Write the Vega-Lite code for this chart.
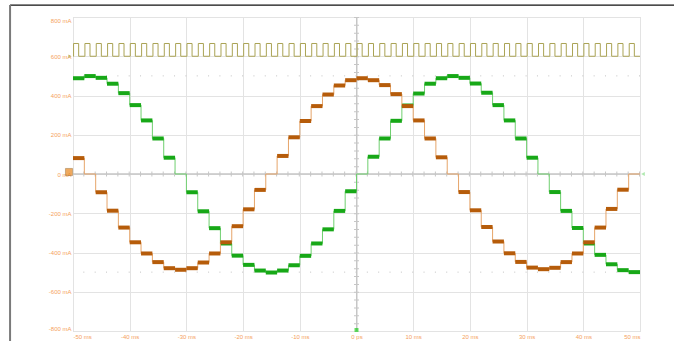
{
  "$schema": "https://vega.github.io/schema/vega-lite/v6.json",
  "width": 567,
  "height": 314,
  "autosize": {"type": "none"},
  "padding": {"left": 73, "top": 17, "right": 34, "bottom": 10},
  "background": "white",
  "config": {
    "view": {"stroke": "#d2d2d2", "strokeWidth": 1},
    "axis": {"domain": false, "ticks": false, "labelFont": "Liberation Sans", "labelFontSize": 6, "labelColor": "#f5a15c", "gridColor": "#e3e3e3", "gridWidth": 1, "labelPadding": 2, "labelOverlap": false, "labelBound": false}
  },
  "datasets": {
    "steps": [
      {"s":"green","t0":-50,"t1":-48,"v":488},{"s":"green","t0":-48,"t1":-46,"v":499},{"s":"green","t0":-46,"t1":-44,"v":490},{"s":"green","t0":-44,"t1":-42,"v":460},{"s":"green","t0":-42,"t1":-40,"v":412},
      {"s":"green","t0":-40,"t1":-38,"v":351},{"s":"green","t0":-38,"t1":-36,"v":273},{"s":"green","t0":-36,"t1":-34,"v":181},{"s":"green","t0":-34,"t1":-32,"v":83},{"s":"green","t0":-32,"t1":-30,"v":0},
      {"s":"green","t0":-30,"t1":-28,"v":-93},{"s":"green","t0":-28,"t1":-26,"v":-190},{"s":"green","t0":-26,"t1":-24,"v":-276},{"s":"green","t0":-24,"t1":-22,"v":-354},{"s":"green","t0":-22,"t1":-20,"v":-416},
      {"s":"green","t0":-20,"t1":-18,"v":-463},{"s":"green","t0":-18,"t1":-16,"v":-492},{"s":"green","t0":-16,"t1":-14,"v":-502},{"s":"green","t0":-14,"t1":-12,"v":-492},{"s":"green","t0":-12,"t1":-10,"v":-465},
      {"s":"green","t0":-10,"t1":-8,"v":-417},{"s":"green","t0":-8,"t1":-6,"v":-354},{"s":"green","t0":-6,"t1":-4,"v":-282},{"s":"green","t0":-4,"t1":-2,"v":-188},{"s":"green","t0":-2,"t1":0,"v":-88},
      {"s":"green","t0":0,"t1":2,"v":0},{"s":"green","t0":2,"t1":4,"v":88},{"s":"green","t0":4,"t1":6,"v":181},{"s":"green","t0":6,"t1":8,"v":271},{"s":"green","t0":8,"t1":10,"v":349},
      {"s":"green","t0":10,"t1":12,"v":410},{"s":"green","t0":12,"t1":14,"v":460},{"s":"green","t0":14,"t1":16,"v":488},{"s":"green","t0":16,"t1":18,"v":499},{"s":"green","t0":18,"t1":20,"v":490},
      {"s":"green","t0":20,"t1":22,"v":461},{"s":"green","t0":22,"t1":24,"v":414},{"s":"green","t0":24,"t1":26,"v":351},{"s":"green","t0":26,"t1":28,"v":273},{"s":"green","t0":28,"t1":30,"v":181},
      {"s":"green","t0":30,"t1":32,"v":83},{"s":"green","t0":32,"t1":34,"v":0},{"s":"green","t0":34,"t1":36,"v":-92},{"s":"green","t0":36,"t1":38,"v":-188},{"s":"green","t0":38,"t1":40,"v":-275},
      {"s":"green","t0":40,"t1":42,"v":-354},{"s":"green","t0":42,"t1":44,"v":-412},{"s":"green","t0":44,"t1":46,"v":-460},{"s":"green","t0":46,"t1":48,"v":-490},{"s":"green","t0":48,"t1":50,"v":-500},
      {"s":"orange","t0":-50,"t1":-48,"v":81},{"s":"orange","t0":-48,"t1":-46,"v":0},{"s":"orange","t0":-46,"t1":-44,"v":-93},{"s":"orange","t0":-44,"t1":-42,"v":-187},{"s":"orange","t0":-42,"t1":-40,"v":-273},
      {"s":"orange","t0":-40,"t1":-38,"v":-348},{"s":"orange","t0":-38,"t1":-36,"v":-405},{"s":"orange","t0":-36,"t1":-34,"v":-449},{"s":"orange","t0":-34,"t1":-32,"v":-480},{"s":"orange","t0":-32,"t1":-30,"v":-488},
      {"s":"orange","t0":-30,"t1":-28,"v":-480},{"s":"orange","t0":-28,"t1":-26,"v":-451},{"s":"orange","t0":-26,"t1":-24,"v":-405},{"s":"orange","t0":-24,"t1":-22,"v":-348},{"s":"orange","t0":-22,"t1":-20,"v":-266},
      {"s":"orange","t0":-20,"t1":-18,"v":-180},{"s":"orange","t0":-18,"t1":-16,"v":-81},{"s":"orange","t0":-16,"t1":-14,"v":0},{"s":"orange","t0":-14,"t1":-12,"v":92},{"s":"orange","t0":-12,"t1":-10,"v":187},
      {"s":"orange","t0":-10,"t1":-8,"v":270},{"s":"orange","t0":-8,"t1":-6,"v":346},{"s":"orange","t0":-6,"t1":-4,"v":405},{"s":"orange","t0":-4,"t1":-2,"v":451},{"s":"orange","t0":-2,"t1":0,"v":478},
      {"s":"orange","t0":0,"t1":2,"v":488},{"s":"orange","t0":2,"t1":4,"v":478},{"s":"orange","t0":4,"t1":6,"v":453},{"s":"orange","t0":6,"t1":8,"v":407},{"s":"orange","t0":8,"t1":10,"v":346},
      {"s":"orange","t0":10,"t1":12,"v":273},{"s":"orange","t0":12,"t1":14,"v":181},{"s":"orange","t0":14,"t1":16,"v":85},{"s":"orange","t0":16,"t1":18,"v":0},{"s":"orange","t0":18,"t1":20,"v":-92},
      {"s":"orange","t0":20,"t1":22,"v":-185},{"s":"orange","t0":22,"t1":24,"v":-270},{"s":"orange","t0":24,"t1":26,"v":-344},{"s":"orange","t0":26,"t1":28,"v":-404},{"s":"orange","t0":28,"t1":30,"v":-448},
      {"s":"orange","t0":30,"t1":32,"v":-477},{"s":"orange","t0":32,"t1":34,"v":-485},{"s":"orange","t0":34,"t1":36,"v":-478},{"s":"orange","t0":36,"t1":38,"v":-449},{"s":"orange","t0":38,"t1":40,"v":-405},
      {"s":"orange","t0":40,"t1":42,"v":-348},{"s":"orange","t0":42,"t1":44,"v":-273},{"s":"orange","t0":44,"t1":46,"v":-178},{"s":"orange","t0":46,"t1":48,"v":-80},{"s":"orange","t0":48,"t1":50,"v":0}
    ],
    "sq": [
      {"t":-50,"v":600},
      {"t":-49.9,"v":665},{"t":-49,"v":600},{"t":-47.9,"v":665},{"t":-47,"v":600},{"t":-45.9,"v":665},{"t":-45,"v":600},{"t":-43.9,"v":665},{"t":-43,"v":600},{"t":-41.9,"v":665},{"t":-41,"v":600},
      {"t":-39.9,"v":665},{"t":-39,"v":600},{"t":-37.9,"v":665},{"t":-37,"v":600},{"t":-35.9,"v":665},{"t":-35,"v":600},{"t":-33.9,"v":665},{"t":-33,"v":600},{"t":-31.9,"v":665},{"t":-31,"v":600},
      {"t":-29.9,"v":665},{"t":-29,"v":600},{"t":-27.9,"v":665},{"t":-27,"v":600},{"t":-25.9,"v":665},{"t":-25,"v":600},{"t":-23.9,"v":665},{"t":-23,"v":600},{"t":-21.9,"v":665},{"t":-21,"v":600},
      {"t":-19.9,"v":665},{"t":-19,"v":600},{"t":-17.9,"v":665},{"t":-17,"v":600},{"t":-15.9,"v":665},{"t":-15,"v":600},{"t":-13.9,"v":665},{"t":-13,"v":600},{"t":-11.9,"v":665},{"t":-11,"v":600},
      {"t":-9.9,"v":665},{"t":-9,"v":600},{"t":-7.9,"v":665},{"t":-7,"v":600},{"t":-5.9,"v":665},{"t":-5,"v":600},{"t":-3.9,"v":665},{"t":-3,"v":600},{"t":-1.9,"v":665},{"t":-1,"v":600},
      {"t":0.1,"v":665},{"t":1,"v":600},{"t":2.1,"v":665},{"t":3,"v":600},{"t":4.1,"v":665},{"t":5,"v":600},{"t":6.1,"v":665},{"t":7,"v":600},{"t":8.1,"v":665},{"t":9,"v":600},
      {"t":10.1,"v":665},{"t":11,"v":600},{"t":12.1,"v":665},{"t":13,"v":600},{"t":14.1,"v":665},{"t":15,"v":600},{"t":16.1,"v":665},{"t":17,"v":600},{"t":18.1,"v":665},{"t":19,"v":600},
      {"t":20.1,"v":665},{"t":21,"v":600},{"t":22.1,"v":665},{"t":23,"v":600},{"t":24.1,"v":665},{"t":25,"v":600},{"t":26.1,"v":665},{"t":27,"v":600},{"t":28.1,"v":665},{"t":29,"v":600},
      {"t":30.1,"v":665},{"t":31,"v":600},{"t":32.1,"v":665},{"t":33,"v":600},{"t":34.1,"v":665},{"t":35,"v":600},{"t":36.1,"v":665},{"t":37,"v":600},{"t":38.1,"v":665},{"t":39,"v":600},
      {"t":40.1,"v":665},{"t":41,"v":600},{"t":42.1,"v":665},{"t":43,"v":600},{"t":44.1,"v":665},{"t":45,"v":600},{"t":46.1,"v":665},{"t":47,"v":600},{"t":48.1,"v":665},{"t":49,"v":600},
      {"t":50,"v":600}
    ],
    "frame": [
      {"part": "top", "t0": -61.1, "t1": 56, "v0": 861, "v1": 861},
      {"part": "left", "t0": -61.1, "t1": -61.1, "v0": 861, "v1": -852}
    ]
  },
  "layer": [
    {
      "data": {"values": [{"v": 500}, {"v": -500}]},
      "mark": {"type": "rule", "color": "#c2c2c2", "strokeDash": [1, 10.34]},
      "encoding": {
        "y": {"field": "v", "type": "quantitative", "scale": {"domain": [-800, 800], "nice": false, "zero": false}, "title": null,
          "axis": {"values": [-800, -600, -400, -200, 0, 200, 400, 600, 800], "tickCount": 40, "labelOverlap": false, "grid": true, "labelFlush": true,
            "labelExpr": "datum.value + ' mA'", "title": null}}
      }
    },
    {
      "data": {"values": [{"t": 0}]},
      "mark": {"type": "rule", "color": "#c6c6c6"},
      "encoding": {
        "x": {"field": "t", "type": "quantitative", "scale": {"domain": [-50, 50], "nice": false, "zero": false}, "title": null,
          "axis": {"values": [-50, -40, -30, -20, -10, 0, 10, 20, 30, 40, 50], "tickCount": 40, "labelOverlap": false, "grid": true, "labelFlush": true,
            "labelExpr": "datum.value == 0 ? '0 ps' : datum.value + ' ms'", "title": null}}
      }
    },
    {
      "data": {"values": [{"t": 0}]},
      "mark": {"type": "rule", "color": "#c6c6c6", "strokeWidth": 5, "strokeDash": [1, 6.85]},
      "encoding": {"x": {"field": "t", "type": "quantitative", "title": null}}
    },
    {
      "data": {"values": [{"v": 0}]},
      "mark": {"type": "rule", "color": "#c6c6c6", "strokeWidth": 1.5},
      "encoding": {"y": {"field": "v", "type": "quantitative", "title": null}}
    },
    {
      "data": {"values": [{"v": 0}]},
      "mark": {"type": "rule", "color": "#c6c6c6", "strokeWidth": 5, "strokeDash": [1, 10.34]},
      "encoding": {"y": {"field": "v", "type": "quantitative", "title": null}}
    },
    {
      "data": {"name": "sq"},
      "mark": {"type": "line", "color": "#aaa354", "strokeWidth": 1, "interpolate": "step-after"},
      "encoding": {
        "x": {"field": "t", "type": "quantitative", "title": null},
        "y": {"field": "v", "type": "quantitative", "title": null}
      }
    },
    {
      "data": {"name": "steps"},
      "transform": [{"filter": "datum.s == 'green'"}, {"fold": ["t0", "t1"], "as": ["k", "t"]}],
      "mark": {"type": "line", "color": "#6fcf6f", "strokeWidth": 1},
      "encoding": {
        "x": {"field": "t", "type": "quantitative", "title": null},
        "y": {"field": "v", "type": "quantitative", "title": null}
      }
    },
    {
      "data": {"name": "steps"},
      "transform": [{"filter": "datum.s == 'green' && datum.v != 0"}],
      "mark": {"type": "rule", "color": "#17a817", "strokeWidth": 4, "strokeCap": "butt"},
      "encoding": {
        "x": {"field": "t0", "type": "quantitative", "title": null},
        "x2": {"field": "t1"},
        "y": {"field": "v", "type": "quantitative", "title": null}
      }
    },
    {
      "data": {"name": "steps"},
      "transform": [{"filter": "datum.s == 'orange'"}, {"fold": ["t0", "t1"], "as": ["k", "t"]}],
      "mark": {"type": "line", "color": "#e6a56a", "strokeWidth": 1},
      "encoding": {
        "x": {"field": "t", "type": "quantitative", "title": null},
        "y": {"field": "v", "type": "quantitative", "title": null}
      }
    },
    {
      "data": {"name": "steps"},
      "transform": [{"filter": "datum.s == 'orange' && datum.v != 0"}],
      "mark": {"type": "rule", "color": "#b65c0a", "strokeWidth": 4, "strokeCap": "butt"},
      "encoding": {
        "x": {"field": "t0", "type": "quantitative", "title": null},
        "x2": {"field": "t1"},
        "y": {"field": "v", "type": "quantitative", "title": null}
      }
    },
    {
      "data": {"values": [{"t": -50, "v": 0}]},
      "mark": {"type": "square", "filled": true, "color": "#e8861c", "stroke": "#8a5512", "strokeWidth": 0.6, "size": 50, "xOffset": -4, "yOffset": -2, "clip": false},
      "encoding": {
        "x": {"field": "t", "type": "quantitative", "title": null},
        "y": {"field": "v", "type": "quantitative", "title": null}
      }
    },
    {
      "data": {"values": [{"t": -50, "v": 600}]},
      "mark": {"type": "point", "shape": "triangle-right", "filled": true, "color": "#b3ab4e", "size": 14, "xOffset": -3, "clip": false},
      "encoding": {
        "x": {"field": "t", "type": "quantitative", "title": null},
        "y": {"field": "v", "type": "quantitative", "title": null}
      }
    },
    {
      "data": {"values": [{"t": 0, "v": -800}]},
      "mark": {"type": "square", "filled": true, "color": "#22cc22", "size": 16, "yOffset": -1, "clip": false},
      "encoding": {
        "x": {"field": "t", "type": "quantitative", "title": null},
        "y": {"field": "v", "type": "quantitative", "title": null}
      }
    },
    {
      "data": {"values": [{"t": 50, "v": 0}]},
      "mark": {"type": "point", "shape": "triangle-left", "filled": true, "color": "#8fe08f", "size": 18, "xOffset": 3, "clip": false},
      "encoding": {
        "x": {"field": "t", "type": "quantitative", "title": null},
        "y": {"field": "v", "type": "quantitative", "title": null}
      }
    },
    {
      "data": {"name": "frame"},
      "transform": [{"filter": "datum.part == 'top'"}],
      "mark": {"type": "rule", "color": "#111111", "strokeWidth": 1.2, "clip": false},
      "encoding": {
        "x": {"field": "t0", "type": "quantitative", "title": null},
        "x2": {"field": "t1"},
        "y": {"field": "v0", "type": "quantitative", "title": null},
        "y2": {"field": "v1"}
      }
    },
    {
      "data": {"name": "frame"},
      "transform": [{"filter": "datum.part == 'left'"}],
      "mark": {"type": "rule", "color": "#7a7a7a", "strokeWidth": 2, "clip": false},
      "encoding": {
        "x": {"field": "t0", "type": "quantitative", "title": null},
        "x2": {"field": "t1"},
        "y": {"field": "v0", "type": "quantitative", "title": null},
        "y2": {"field": "v1"}
      }
    }
  ]
}
